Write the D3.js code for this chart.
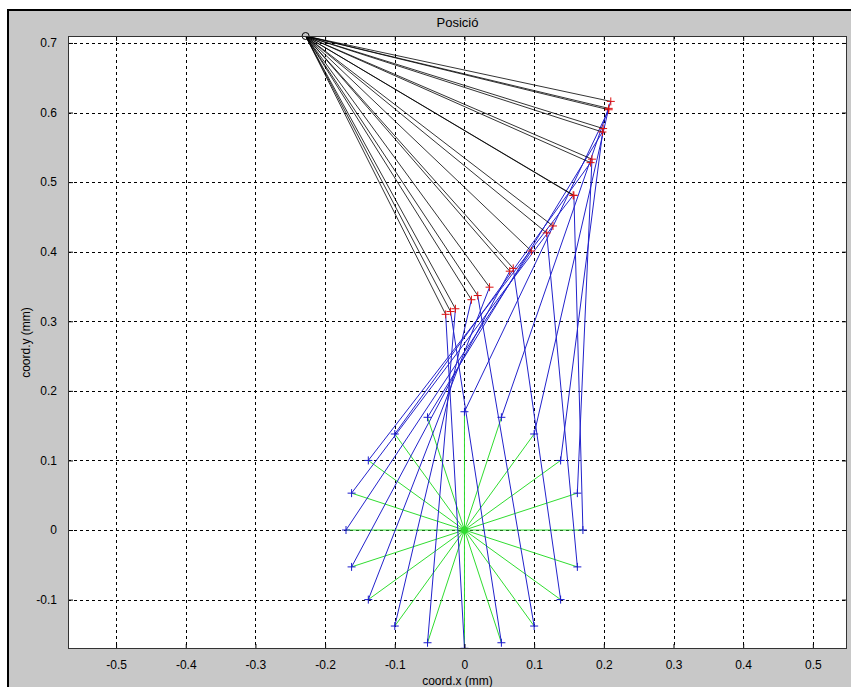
<!DOCTYPE html>
<html>
<head>
<meta charset="utf-8">
<script src="https://cdn.jsdelivr.net/npm/d3@7"></script>
<style>
  html, body { margin: 0; padding: 0; background: #fff; }
  svg { display: block; }
  text { font-family: "Liberation Sans", Arial, Helvetica, sans-serif; fill: #000; }
</style>
</head>
<body>
<script>
// Crank pin positions (green crank from the origin)
const crankX = [0.170, 0.162, 0.138, 0.100, 0.053, 0.000, -0.053, -0.100, -0.138, -0.162,
                -0.170, -0.162, -0.138, -0.100, -0.053, 0.000, 0.053, 0.100, 0.138, 0.162];
const crankY = [0.000, 0.053, 0.100, 0.138, 0.162, 0.170, 0.162, 0.138, 0.100, 0.053,
                0.000, -0.053, -0.100, -0.138, -0.162, -0.170, -0.162, -0.138, -0.100, -0.053];
// Coupler / rocker joint positions
const couplerX = [0.157, 0.183, 0.199, 0.207, 0.210, 0.207, 0.198, 0.181, 0.156, 0.127,
                  0.096, 0.065, 0.036, 0.010, -0.013, -0.027, -0.020, 0.019, 0.070, 0.118];
const couplerY = [0.481, 0.533, 0.577, 0.606, 0.616, 0.604, 0.572, 0.528, 0.481, 0.437,
                  0.401, 0.372, 0.349, 0.331, 0.318, 0.310, 0.314, 0.337, 0.376, 0.427];
// Fixed pivots
const crankPivot = [0, 0];
const rockerPivot = [-0.228, 0.710];

const xTicks = [-0.5, -0.4, -0.3, -0.2, -0.1, 0, 0.1, 0.2, 0.3, 0.4, 0.5];
const yTicks = [-0.1, 0, 0.1, 0.2, 0.3, 0.4, 0.5, 0.6, 0.7];
const xTickLabels = ["-0.5", "-0.4", "-0.3", "-0.2", "-0.1", "0", "0.1", "0.2", "0.3", "0.4", "0.5"];
const yTickLabels = ["-0.1", "0", "0.1", "0.2", "0.3", "0.4", "0.5", "0.6", "0.7"];
const xDomain = [-0.569, 0.549];
const yDomain = [-0.171, 0.710];

const titleText = "Posició";
const xLabelText = "coord.x (mm)";
const yLabelText = "coord.y (mm)";

const W = 851, H = 687;
const plot = { left: 68, right: 847, top: 36, bottom: 649 };

const svg = d3.select("body").append("svg").attr("width", W).attr("height", H);

// window frame and grey figure background
svg.append("rect").attr("x", 0).attr("y", 0).attr("width", W).attr("height", H).attr("fill", "#fff");
svg.append("rect").attr("x", 7).attr("y", 9).attr("width", W - 7).attr("height", H - 9).attr("fill", "#000");
svg.append("rect").attr("x", 9).attr("y", 11).attr("width", W - 9).attr("height", H - 11).attr("fill", "#c8c8c8");

const x = d3.scaleLinear().domain(xDomain).range([plot.left, plot.right]);
const y = d3.scaleLinear().domain(yDomain).range([plot.bottom, plot.top]);

// axes background
svg.append("rect")
  .attr("x", plot.left).attr("y", plot.top)
  .attr("width", plot.right - plot.left).attr("height", plot.bottom - plot.top)
  .attr("fill", "#fff");

svg.append("defs").append("clipPath").attr("id", "plotClip")
  .append("rect")
  .attr("x", plot.left).attr("y", plot.top)
  .attr("width", plot.right - plot.left).attr("height", plot.bottom - plot.top);

// dotted grid
const grid = svg.append("g").attr("stroke", "#000").attr("stroke-width", 1)
  .attr("stroke-dasharray", "3,3").attr("shape-rendering", "crispEdges");
grid.selectAll("line.gx").data(xTicks).enter().append("line")
  .attr("x1", d => Math.round(x(d)) + 0.5).attr("x2", d => Math.round(x(d)) + 0.5)
  .attr("y1", plot.top).attr("y2", plot.bottom);
grid.selectAll("line.gy").data(yTicks).enter().append("line")
  .attr("y1", d => Math.round(y(d)) + 0.5).attr("y2", d => Math.round(y(d)) + 0.5)
  .attr("x1", plot.left).attr("x2", plot.right);

// mechanism
const marks = svg.append("g").attr("clip-path", "url(#plotClip)");
const idx = d3.range(crankX.length);

marks.selectAll("line.crank").data(idx).enter().append("line")
  .attr("x1", x(crankPivot[0])).attr("y1", y(crankPivot[1]))
  .attr("x2", i => x(crankX[i])).attr("y2", i => y(crankY[i]))
  .attr("stroke", "#30dd30").attr("stroke-width", 1);

marks.selectAll("line.coupler").data(idx).enter().append("line")
  .attr("x1", i => x(crankX[i])).attr("y1", i => y(crankY[i]))
  .attr("x2", i => x(couplerX[i])).attr("y2", i => y(couplerY[i]))
  .attr("stroke", "#2222cc").attr("stroke-width", 1);

marks.selectAll("line.rocker").data(idx).enter().append("line")
  .attr("x1", i => x(couplerX[i])).attr("y1", i => y(couplerY[i]))
  .attr("x2", x(rockerPivot[0])).attr("y2", y(rockerPivot[1]))
  .attr("stroke", "#000").attr("stroke-width", 0.8);

function plusMarks(xs, ys, color) {
  const g = marks.append("g").attr("stroke", color).attr("stroke-width", 1);
  idx.forEach(i => {
    const px = x(xs[i]), py = y(ys[i]);
    g.append("line").attr("x1", px - 4).attr("x2", px + 4).attr("y1", py).attr("y2", py);
    g.append("line").attr("x1", px).attr("x2", px).attr("y1", py - 4).attr("y2", py + 4);
  });
}
plusMarks(crankX, crankY, "#1a1acc");
plusMarks(couplerX, couplerY, "#dd1111");

marks.append("circle").attr("cx", x(crankPivot[0])).attr("cy", y(crankPivot[1])).attr("r", 3)
  .attr("fill", "none").attr("stroke", "#30dd30").attr("stroke-width", 1.2);
svg.append("circle").attr("cx", x(rockerPivot[0])).attr("cy", y(rockerPivot[1])).attr("r", 3.5)
  .attr("fill", "none").attr("stroke", "#000").attr("stroke-width", 1);

// axes with inward ticks on all four sides
const tickLen = 5;
const axB = svg.append("g").attr("transform", `translate(0,${plot.bottom})`)
  .call(d3.axisBottom(x).tickValues(xTicks).tickSize(-tickLen).tickPadding(tickLen + 6)
        .tickFormat((d, i) => xTickLabels[i]));
const axT = svg.append("g").attr("transform", `translate(0,${plot.top})`)
  .call(d3.axisTop(x).tickValues(xTicks).tickSize(-tickLen).tickFormat(""));
const axL = svg.append("g").attr("transform", `translate(${plot.left},0)`)
  .call(d3.axisLeft(y).tickValues(yTicks).tickSize(-tickLen).tickPadding(tickLen + 6)
        .tickFormat((d, i) => yTickLabels[i]));
const axR = svg.append("g").attr("transform", `translate(${plot.right},0)`)
  .call(d3.axisRight(y).tickValues(yTicks).tickSize(-tickLen).tickFormat(""));
[axB, axT, axL, axR].forEach(a => {
  a.select(".domain").remove();
  a.selectAll(".tick line").attr("stroke", "#000");
  a.selectAll("text").attr("font-size", 12).attr("font-family", "'Liberation Sans', Arial, sans-serif").attr("fill", "#000");
});

// axes box
svg.append("rect")
  .attr("x", plot.left + 0.5).attr("y", plot.top + 0.5)
  .attr("width", plot.right - plot.left - 1).attr("height", plot.bottom - plot.top - 1)
  .attr("fill", "none").attr("stroke", "#333").attr("stroke-width", 1);

// title and axis labels
svg.append("text").attr("x", (plot.left + plot.right) / 2).attr("y", 27)
  .attr("text-anchor", "middle").attr("font-size", 13).text(titleText);
svg.append("text").attr("x", (plot.left + plot.right) / 2).attr("y", 685)
  .attr("text-anchor", "middle").attr("font-size", 12).text(xLabelText);
svg.append("text")
  .attr("transform", `translate(30,${(plot.top + plot.bottom) / 2}) rotate(-90)`)
  .attr("text-anchor", "middle").attr("font-size", 12).text(yLabelText);
</script>
</body>
</html>
